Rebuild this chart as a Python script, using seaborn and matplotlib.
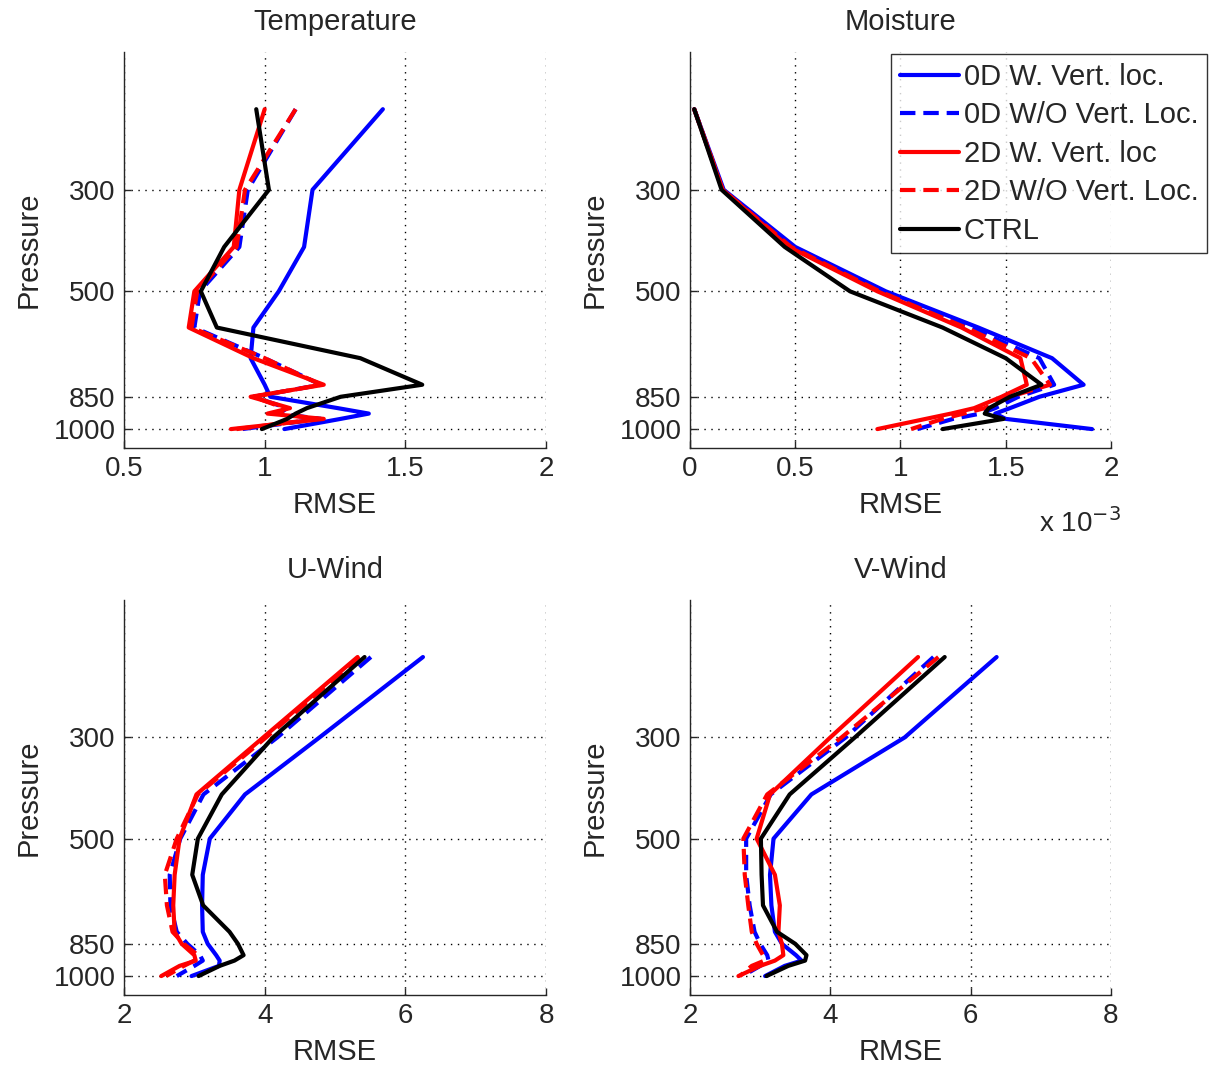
import numpy as np
import pandas as pd
import matplotlib
matplotlib.use('Agg')
import matplotlib.pyplot as plt
import seaborn as sns
from matplotlib.ticker import FixedLocator, NullLocator, FixedFormatter

# pressure levels (hPa)
levels = [200, 300, 400, 500, 600, 700, 800, 850, 900, 925, 950, 1000]

series_names = ["0D W. Vert. loc.", "0D W/O Vert. Loc.", "2D W. Vert. loc",
                "2D W/O Vert. Loc.", "CTRL"]

# Temperature RMSE
temp_0d_w = [1.42, 1.17, 1.14, 1.05, 0.96, 0.95, 1.00, 1.02, 1.26, 1.37, 1.27, 1.07]
temp_0d_wo = [1.11, 0.94, 0.91, 0.77, 0.75, 1.00, 1.20, 0.96, 1.08, 1.05, 1.20, 0.92]
temp_2d_w = [1.00, 0.91, 0.89, 0.75, 0.73, 0.96, 1.21, 0.95, 1.09, 1.01, 1.21, 0.88]
temp_2d_wo = [1.11, 0.93, 0.90, 0.76, 0.74, 1.00, 1.20, 0.96, 1.07, 1.05, 1.19, 0.90]
temp_ctrl = [0.97, 1.015, 0.856, 0.773, 0.83, 1.34, 1.56, 1.27, 1.15, 1.11, 1.08, 0.99]

# Moisture RMSE (x 1e-3)
q_0d_w = [0.02, 0.16, 0.50, 0.93, 1.37, 1.72, 1.87, 1.66, 1.52, 1.45, 1.50, 1.91]
q_0d_wo = [0.02, 0.155, 0.49, 0.91, 1.33, 1.66, 1.73, 1.56, 1.45, 1.38, 1.25, 1.08]
q_2d_w = [0.02, 0.155, 0.47, 0.89, 1.29, 1.57, 1.60, 1.48, 1.35, 1.24, 1.12, 0.89]
q_2d_wo = [0.02, 0.155, 0.48, 0.90, 1.31, 1.62, 1.71, 1.52, 1.40, 1.30, 1.20, 1.05]
q_ctrl = [0.02, 0.15, 0.45, 0.76, 1.20, 1.50, 1.67, 1.52, 1.42, 1.40, 1.49, 1.20]

# U-wind RMSE
u_0d_w = [6.25, 4.78, 3.72, 3.22, 3.12, 3.11, 3.12, 3.19, 3.31, 3.36, 3.35, 2.96]
u_0d_wo = [5.51, 4.18, 3.13, 2.80, 2.65, 2.66, 2.75, 2.90, 3.08, 3.12, 3.00, 2.75]
u_2d_w = [5.32, 3.98, 3.03, 2.79, 2.72, 2.70, 2.72, 2.82, 3.00, 3.02, 2.79, 2.53]
u_2d_wo = [5.35, 4.02, 3.05, 2.75, 2.58, 2.61, 2.69, 2.85, 3.05, 3.00, 2.85, 2.60]
u_ctrl = [5.42, 4.12, 3.39, 3.05, 2.97, 3.125, 3.50, 3.62, 3.70, 3.57, 3.36, 3.06]

# V-wind RMSE
v_0d_w = [6.37, 5.06, 3.73, 3.19, 3.14, 3.16, 3.21, 3.31, 3.51, 3.59, 3.35, 3.07]
v_0d_wo = [5.47, 4.22, 3.15, 2.80, 2.80, 2.85, 2.92, 3.00, 3.10, 3.12, 3.00, 2.75]
v_2d_w = [5.25, 4.00, 3.14, 2.95, 3.21, 3.28, 3.26, 3.31, 3.33, 3.21, 3.00, 2.69]
v_2d_wo = [5.54, 4.16, 3.10, 2.76, 2.78, 2.83, 2.88, 2.95, 3.04, 3.06, 2.88, 2.71]
v_ctrl = [5.63, 4.35, 3.42, 3.01, 3.02, 3.04, 3.24, 3.50, 3.66, 3.64, 3.40, 3.09]

panels = [
    ("Temperature", [temp_0d_w, temp_0d_wo, temp_2d_w, temp_2d_wo, temp_ctrl],
     [0.5, 1, 1.5, 2], ["0.5", "1", "1.5", "2"]),
    ("Moisture", [q_0d_w, q_0d_wo, q_2d_w, q_2d_wo, q_ctrl],
     [0, 0.5, 1, 1.5, 2], ["0", "0.5", "1", "1.5", "2"]),
    ("U-Wind", [u_0d_w, u_0d_wo, u_2d_w, u_2d_wo, u_ctrl],
     [2, 4, 6, 8], ["2", "4", "6", "8"]),
    ("V-Wind", [v_0d_w, v_0d_wo, v_2d_w, v_2d_wo, v_ctrl],
     [2, 4, 6, 8], ["2", "4", "6", "8"]),
]

colors = ["#0000ff", "#0000ff", "#ff0000", "#ff0000", "#000000"]
styles = ["-", (0, (3.7, 1.9)), "-", (0, (3.7, 1.9)), "-"]

yticks = [300, 500, 850, 1000]

sns.set_style("ticks")
plt.rcParams['font.family'] = ['Liberation Sans', 'DejaVu Sans']
plt.rcParams['font.size'] = 20
plt.rcParams['xtick.direction'] = 'in'
plt.rcParams['ytick.direction'] = 'in'

fig = plt.figure(figsize=(12.11, 10.68), dpi=100)
positions = [
    [0.1024, 0.5805, 0.3485, 0.3708],
    [0.5698, 0.5805, 0.3476, 0.3708],
    [0.1024, 0.0684, 0.3485, 0.3698],
    [0.5698, 0.0684, 0.3476, 0.3698],
]

for pos, (title, data, xt, xtl) in zip(positions, panels):
    ax = fig.add_axes(pos)
    for name, vals, c, ls in zip(series_names, data, colors, styles):
        df = pd.DataFrame({"rmse": vals, "p": levels})
        sns.lineplot(data=df, x="rmse", y="p", ax=ax, sort=False, estimator=None,
                     color=c, linestyle=ls, linewidth=3.0, label=name, legend=False)
    ax.set_yscale("log")
    ax.set_ylim(1100, 150)
    ax.set_xlim(xt[0], xt[-1])
    ax.yaxis.set_major_locator(FixedLocator(yticks))
    ax.yaxis.set_major_formatter(FixedFormatter([str(t) for t in yticks]))
    ax.yaxis.set_minor_locator(NullLocator())
    ax.set_xticks(xt)
    ax.set_xticklabels(xtl)
    ax.grid(True, linestyle=(0, (1, 4)), color="black", linewidth=1.0)
    for s in ["top", "right"]:
        ax.spines[s].set_visible(False)
    for s in ["left", "bottom"]:
        ax.spines[s].set_linewidth(1.0)
    ax.tick_params(length=5, width=1, labelsize=20, pad=6)
    ax.set_title(title, fontsize=21, pad=16)
    ax.set_xlabel("RMSE", fontsize=21, labelpad=6)
    ax.set_ylabel("Pressure", fontsize=21, labelpad=8)
    if title == "Moisture":
        leg = ax.legend(loc="upper left", bbox_to_anchor=(0.477, 0.995),
                        fontsize=21, frameon=True, fancybox=False,
                        handlelength=2.05, handletextpad=0.15, borderpad=0.3,
                        labelspacing=0.36, borderaxespad=0)
        leg.get_frame().set_edgecolor("black")
        leg.get_frame().set_linewidth(1.0)
        ax.text(0.83, -0.19, r"x 10$^{-3}$", transform=ax.transAxes,
                fontsize=20, va="center", ha="left")

fig.savefig("out.png", dpi=100)
plt.close(fig)
